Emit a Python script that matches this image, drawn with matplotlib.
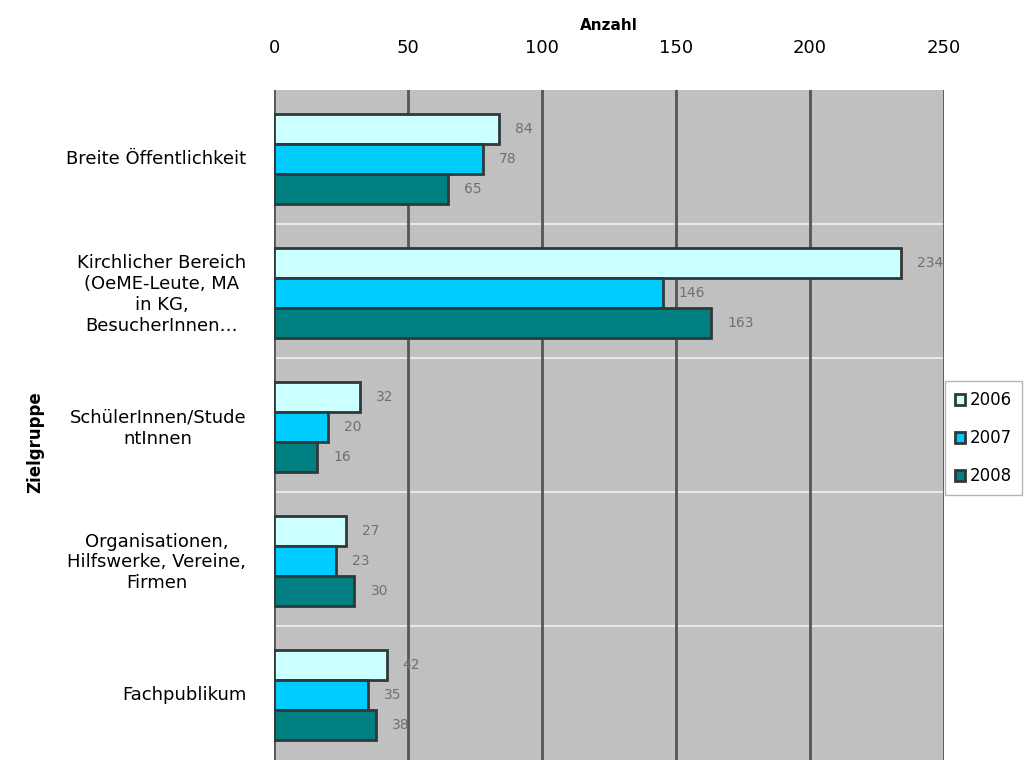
import matplotlib.pyplot as plt
import numpy as np

categories = [
    "Breite Öffentlichkeit",
    "Kirchlicher Bereich\n(OeME-Leute, MA\nin KG,\nBesucherInnen…",
    "SchülerInnen/Stude\nntInnen",
    "Organisationen,\nHilfswerke, Vereine,\nFirmen",
    "Fachpublikum",
]
years = ["2006", "2007", "2008"]
v2006 = [84, 234, 32, 27, 42]
v2007 = [78, 145, 20, 23, 35]
v2008 = [65, 163, 16, 30, 38]
labels2006 = ["84", "234", "32", "27", "42"]
labels2007 = ["78", "146", "20", "23", "35"]
labels2008 = ["65", "163", "16", "30", "38"]
colors = ["#CCFFFF", "#00CCFF", "#008080"]

fig = plt.figure(figsize=(10.24, 7.63), dpi=100)
ax = fig.add_axes([0.2676, 0.004, 0.6543, 0.878])
ax.set_facecolor("#C0C0C0")

y = np.arange(len(categories))
h = 0.225
series = [v2006, v2007, v2008]
texts = [labels2006, labels2007, labels2008]
for i, (vals, lab, col, yr) in enumerate(zip(series, texts, colors, years)):
    pos = y - h + i * h + 0.015
    ax.barh(pos, vals, height=h, color=col, edgecolor="#303838",
            linewidth=2, label=yr, zorder=3)
    for p, v, t in zip(pos, vals, lab):
        ax.text(v + 6, p, t, va="center", ha="left", fontsize=10,
                color="#707070", zorder=4)

ax.set_xlim(0, 250)
ax.set_ylim(len(categories) - 0.5, -0.5)
ax.set_xticks([0, 50, 100, 150, 200, 250])
ax.xaxis.tick_top()
ax.xaxis.set_label_position("top")
ax.tick_params(axis="x", length=0, labelsize=13, pad=24)
ax.grid(axis="x", color="#555555", linewidth=2, zorder=1)
for b in np.arange(0.5, len(categories) - 0.5, 1):
    ax.axhline(b, color="#E8E8E8", linewidth=1.5, zorder=1)

ax.set_yticks(y)
ax.set_yticklabels(categories, fontsize=13, multialignment="center")
ax.tick_params(axis="y", length=0, pad=20)
for s in ax.spines.values():
    s.set_visible(False)

ax.set_xlabel("Anzahl", fontsize=11, fontweight="bold", labelpad=6)
fig.text(0.034, 0.42, "Zielgruppe", rotation=90, fontsize=12,
         fontweight="bold", ha="center", va="center")

leg = ax.legend(loc="center left", bbox_to_anchor=(0.989, 0.48),
                frameon=True, fancybox=False, fontsize=12,
                handlelength=0.6, handleheight=0.6, handletextpad=0.3,
                labelspacing=1.2, borderpad=0.6)
leg.get_frame().set_edgecolor("#A0A0A0")
leg.get_frame().set_facecolor("white")

fig.savefig("out.png", dpi=100)
